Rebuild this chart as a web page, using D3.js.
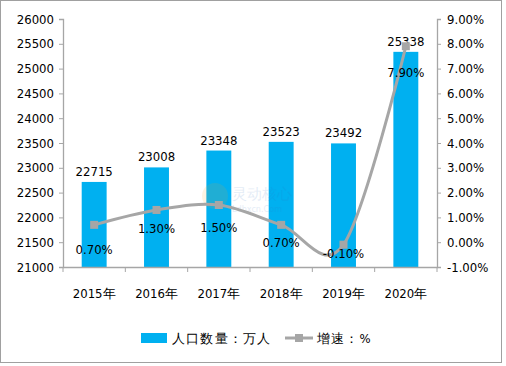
<!DOCTYPE html>
<html>
<head>
<meta charset="utf-8">
<script src="https://cdn.jsdelivr.net/npm/d3@7"></script>
<style>
  body { margin: 0; background: #fff; }
  text { font-family: "DejaVu Sans Condensed", "DejaVu Sans", sans-serif; }
</style>
</head>
<body>
<div id="chart"></div>
<script>
// data
var years = ["2015年", "2016年", "2017年", "2018年", "2019年", "2020年"];
var population = [22715, 23008, 23348, 23523, 23492, 25338];  // 万人
var growth = [0.70, 1.30, 1.50, 0.70, -0.10, 7.90];           // %
var leftTicks = [21000, 21500, 22000, 22500, 23000, 23500, 24000, 24500, 25000, 25500, 26000];
var rightTicks = [-1, 0, 1, 2, 3, 4, 5, 6, 7, 8, 9];

// layout only: vertical nudge of each growth label below its marker
var growthLabelDy = [24, 18, 22, 17, 8, 26];

var w = 506, h = 366;
var plotLeft = 63, plotRight = 437, plotTop = 19, plotBottom = 267;
var barColor = "#00B0F0", lineColor = "#A6A6A6", axisColor = "#A6A6A6";

var svg = d3.select("#chart").append("svg")
    .attr("width", w)
    .attr("height", h);

// outer frame
svg.append("rect")
    .attr("x", 0.5).attr("y", 0.5)
    .attr("width", 501).attr("height", 362)
    .attr("fill", "#fff")
    .attr("stroke", "#A0A0A0");

var x = d3.scaleBand().domain(years).range([plotLeft, plotRight]).padding(0);
var yL = d3.scaleLinear().domain([21000, 26000]).range([plotBottom, plotTop]);
var yR = d3.scaleLinear().domain([-1, 9]).range([plotBottom, plotTop]);

// bars
var bw = x.bandwidth() * 0.4;
svg.selectAll("rect.bar")
    .data(population)
    .enter().append("rect")
    .attr("class", "bar")
    .attr("x", function(d, i) { return x(years[i]) + (x.bandwidth() - bw) / 2; })
    .attr("y", function(d) { return yL(d); })
    .attr("width", bw)
    .attr("height", function(d) { return plotBottom - yL(d); })
    .attr("fill", barColor);

// faint watermark (sits over the bars)
var wm = svg.append("g").attr("opacity", 0.13);
wm.append("circle").attr("cx", 215).attr("cy", 196).attr("r", 13).attr("fill", "#F5A623");
wm.append("text").attr("x", 232).attr("y", 199).attr("font-size", 15)
    .attr("font-family", "Noto Sans CJK SC").attr("fill", "#3070C0").text("灵动核心");
wm.append("text").attr("x", 232).attr("y", 212).attr("font-size", 9)
    .attr("fill", "#3070C0").text("Ldhxcn.Com");

// bar value labels
svg.selectAll("text.barlabel")
    .data(population)
    .enter().append("text")
    .attr("class", "barlabel")
    .attr("x", function(d, i) { return x(years[i]) + x.bandwidth() / 2; })
    .attr("y", function(d) { return yL(d) - 6; })
    .attr("text-anchor", "middle")
    .attr("font-size", 13)
    .attr("fill", "#000")
    .text(function(d) { return d; });

// axes
var axL = d3.axisLeft(yL).tickValues(leftTicks).tickSize(4).tickPadding(5)
    .tickFormat(d3.format("d"));
var gL = svg.append("g").attr("transform", "translate(" + plotLeft + ",0)").call(axL);
var axR = d3.axisRight(yR).tickValues(rightTicks).tickSize(4).tickPadding(6)
    .tickFormat(function(d) { return d.toFixed(2) + "%"; });
var gR = svg.append("g").attr("transform", "translate(" + plotRight + ",0)").call(axR);
var axB = d3.axisBottom(x).tickSize(0).tickPadding(22);
var gB = svg.append("g").attr("transform", "translate(0," + plotBottom + ")").call(axB);

// category boundary ticks on x axis
gB.selectAll("line.bound")
    .data(d3.range(years.length + 1))
    .enter().append("line")
    .attr("class", "bound")
    .attr("x1", function(i) { return plotLeft + i * x.step(); })
    .attr("x2", function(i) { return plotLeft + i * x.step(); })
    .attr("y1", 0).attr("y2", 5)
    .attr("stroke", axisColor);

[gL, gR, gB].forEach(function(g) {
    g.select(".domain").attr("stroke", axisColor).attr("stroke-width", 1.3);
    g.selectAll(".tick line").attr("stroke", axisColor);
    g.selectAll("text").attr("font-size", 13).attr("fill", "#000")
        .attr("font-family", "DejaVu Sans Condensed, DejaVu Sans, sans-serif");
});
gB.selectAll(".tick text").attr("font-family", "DejaVu Sans Condensed, Noto Sans CJK SC, sans-serif");

// growth line
var line = d3.line()
    .x(function(d, i) { return x(years[i]) + x.bandwidth() / 2; })
    .y(function(d) { return yR(d); })
    .curve(d3.curveCardinal.tension(0));

svg.append("path")
    .datum(growth)
    .attr("d", line)
    .attr("fill", "none")
    .attr("stroke", lineColor)
    .attr("stroke-width", 3);

svg.selectAll("rect.marker")
    .data(growth)
    .enter().append("rect")
    .attr("class", "marker")
    .attr("x", function(d, i) { return x(years[i]) + x.bandwidth() / 2 - 4; })
    .attr("y", function(d) { return yR(d) - 4; })
    .attr("width", 8).attr("height", 8)
    .attr("fill", lineColor);

svg.selectAll("text.growthlabel")
    .data(growth)
    .enter().append("text")
    .attr("class", "growthlabel")
    .attr("x", function(d, i) { return x(years[i]) + x.bandwidth() / 2; })
    .attr("y", function(d, i) { return yR(d) + growthLabelDy[i] + 5; })
    .attr("text-anchor", "middle")
    .attr("font-size", 13)
    .attr("fill", "#000")
    .text(function(d) { return d.toFixed(2) + "%"; });

// legend
var lg = svg.append("g").attr("transform", "translate(0,338)");
lg.append("rect").attr("x", 141).attr("y", -5).attr("width", 26).attr("height", 10).attr("fill", barColor);
lg.append("text").attr("x", 172).attr("y", 5).attr("font-size", 13)
    .attr("font-family", "Noto Sans CJK SC").attr("letter-spacing", 1.2).text("人口数量：万人");
lg.append("line").attr("x1", 285).attr("x2", 313).attr("y1", 0).attr("y2", 0)
    .attr("stroke", lineColor).attr("stroke-width", 3);
lg.append("rect").attr("x", 295).attr("y", -4).attr("width", 8).attr("height", 8).attr("fill", lineColor);
lg.append("text").attr("x", 317).attr("y", 5).attr("font-size", 13)
    .attr("font-family", "Noto Sans CJK SC").attr("letter-spacing", 1.2).text("增速：%");
</script>
</body>
</html>
